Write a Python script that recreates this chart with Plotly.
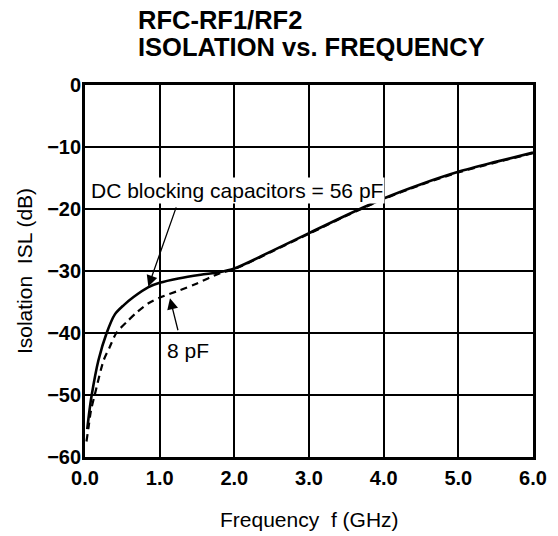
import plotly.graph_objects as go

# Data
freq_56pF = [0.03, 0.06, 0.09, 0.18, 0.29, 0.40, 0.52, 0.65, 0.85, 1.0, 1.25, 1.55, 1.8, 2.0,
             2.5, 3.0, 3.5, 4.0, 4.5, 5.0, 5.5, 6.0]
isl_56pF = [-55.5, -52.5, -50.0, -44.4, -40.0, -37.0, -35.5, -34.2, -32.6, -31.9, -31.2, -30.6,
            -30.2, -29.6, -26.8, -23.9, -21.0, -18.3, -16.0, -14.0, -12.4, -10.9]

freq_8pF = [0.02, 0.05, 0.08, 0.13, 0.25, 0.33, 0.42, 0.56, 0.70, 0.85, 1.0, 1.27, 1.5, 1.8, 2.0,
            2.5, 3.0, 3.5, 4.0, 4.5, 5.0, 5.5, 6.0]
isl_8pF = [-57.5, -55.0, -52.5, -50.0, -44.4, -42.3, -40.0, -38.2, -36.6, -35.2, -34.3, -33.1,
           -32.0, -30.4, -29.7, -26.9, -24.0, -21.1, -18.4, -16.1, -14.1, -12.5, -11.0]

x_tickvals = [0, 1, 2, 3, 4, 5, 6]
x_ticktext = ["0.0", "1.0", "2.0", "3.0", "4.0", "5.0", "6.0"]
y_tickvals = [0, -10, -20, -30, -40, -50, -60]
y_ticktext = ["0", "\u221210", "\u221220", "\u221230", "\u221240", "\u221250", "\u221260"]

FONT = "Liberation Sans, Arial, Helvetica, sans-serif"
FONT_B = dict(family=FONT, size=20, color="black", weight="bold")

fig = go.Figure()
fig.add_trace(go.Scatter(x=freq_56pF, y=isl_56pF, mode="lines",
                         line=dict(color="black", width=2.6, shape="spline", smoothing=0.8),
                         showlegend=False, hoverinfo="skip"))
fig.add_trace(go.Scatter(x=freq_8pF, y=isl_8pF, mode="lines",
                         line=dict(color="black", width=2.2, dash="7px,5px", shape="spline", smoothing=0.8),
                         showlegend=False, hoverinfo="skip"))

annotations = [
    dict(text="RFC-RF1/RF2", xref="paper", yref="paper", x=0.1138, y=1.174,
         xanchor="left", yanchor="middle", showarrow=False,
         font=dict(family=FONT, size=25.5, color="black", weight="bold")),
    dict(text="ISOLATION vs. FREQUENCY", xref="paper", yref="paper", x=0.1138, y=1.102,
         xanchor="left", yanchor="middle", showarrow=False,
         font=dict(family=FONT, size=25.5, color="black", weight="bold")),
    dict(text="Isolation  ISL (dB)", xref="paper", yref="paper", x=-0.136, y=0.5,
         xanchor="center", yanchor="middle", textangle=-90, showarrow=False,
         font=dict(family=FONT, size=21, color="black")),
    dict(text="Frequency  f (GHz)", xref="paper", yref="paper", x=0.5, y=-0.169,
         xanchor="center", yanchor="middle", showarrow=False,
         font=dict(family=FONT, size=21, color="black")),
    dict(text="DC blocking capacitors = 56 pF", x=0.05, y=-17.0, xref="x", yref="y",
         xanchor="left", yanchor="middle", showarrow=False, bgcolor="white",
         font=dict(family=FONT, size=21, color="black")),
    dict(text="8 pF", x=1.07, y=-42.8, xref="x", yref="y",
         xanchor="left", yanchor="middle", showarrow=False, bgcolor="white",
         font=dict(family=FONT, size=21, color="black")),
    dict(text="", x=0.848, y=-32.5, xref="x", yref="y", ax=1.228, ay=-19.5,
         axref="x", ayref="y", showarrow=True, arrowhead=2, arrowsize=1.7,
         arrowwidth=1.3, arrowcolor="black"),
    dict(text="", x=1.138, y=-34.4, xref="x", yref="y", ax=1.25, ay=-39.8,
         axref="x", ayref="y", showarrow=True, arrowhead=2, arrowsize=1.7,
         arrowwidth=1.3, arrowcolor="black"),
]

fig.update_layout(
    width=558, height=536,
    margin=dict(l=85, r=25, t=85, b=79),
    paper_bgcolor="white", plot_bgcolor="white",
    annotations=annotations,
    font=dict(family=FONT, size=21, color="black"),
)
fig.update_xaxes(range=[0, 6], tickvals=x_tickvals, ticktext=x_ticktext,
                 showgrid=True, gridcolor="black", gridwidth=1.5,
                 showline=True, linecolor="black", linewidth=2.8, mirror=True,
                 ticks="", ticklabelstandoff=1, zeroline=False, tickfont=FONT_B)
fig.update_yaxes(range=[-60, 0], tickvals=y_tickvals, ticktext=y_ticktext,
                 showgrid=True, gridcolor="black", gridwidth=1.5,
                 showline=True, linecolor="black", linewidth=2.8, mirror=True,
                 ticks="", ticklabelstandoff=-3, zeroline=False, tickfont=FONT_B)

# remove the default 8px page margin so the figure fills the window exactly
fig.write_html("out.html",
               config={"displayModeBar": False},
               post_script="document.body.style.margin='0';document.body.style.overflow='hidden';")
